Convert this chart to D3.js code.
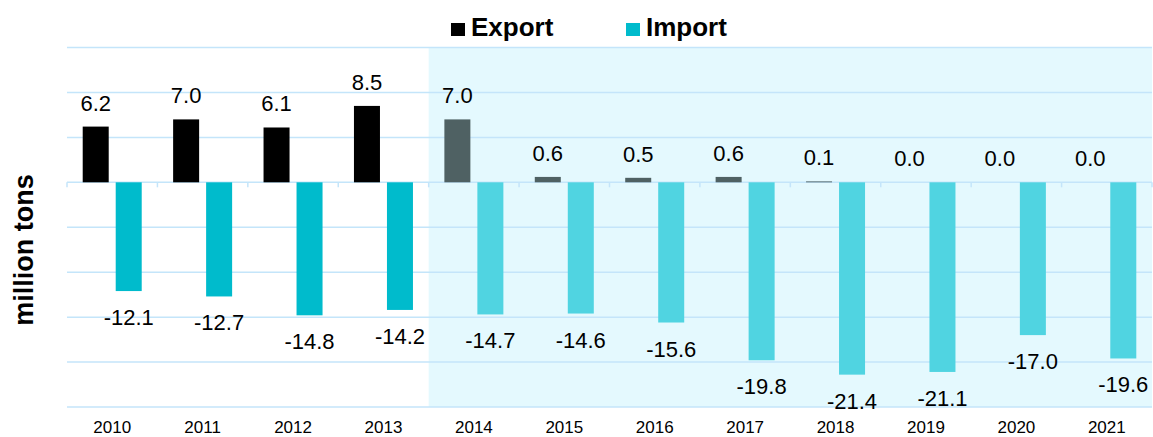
<!DOCTYPE html>
<html>
<head>
<meta charset="utf-8">
<script src="https://cdn.jsdelivr.net/npm/d3@7"></script>
<style>
  html, body { margin: 0; padding: 0; background: #ffffff; }
  svg { display: block; font-family: "Liberation Sans", Arial, sans-serif; }
</style>
</head>
<body>
<svg id="chart" width="1153" height="437"></svg>
<script>
const years = ["2010","2011","2012","2013","2014","2015","2016","2017","2018","2019","2020","2021"];
const exportVals = [6.2, 7.0, 6.1, 8.5, 7.0, 0.6, 0.5, 0.6, 0.1, 0.0, 0.0, 0.0];
const importVals = [-12.1, -12.7, -14.8, -14.2, -14.7, -14.6, -15.6, -19.8, -21.4, -21.1, -17.0, -19.6];
const yTicks = [-25, -20, -15, -10, -5, 0, 5, 10, 15];
const seriesNames = ["Export", "Import"];
const highlightFrom = "2014";

const W = 1153, H = 437;
const plot = { left: 67, right: 1152, top: 47.5, bottom: 407 };

const colors = {
  exportEarly: "#000000",
  exportLate: "#4f6163",
  importEarly: "#00bbcc",
  importLate: "#50d4e1",
  shade: "#e4f9fe",
  grid: "#c4e5fa"
};

const svg = d3.select("#chart");

const x0 = d3.scaleBand().domain(years).range([plot.left, plot.right]).paddingInner(0).paddingOuter(0);
const x1 = d3.scaleBand().domain(["export", "import"]).range([0, x0.bandwidth()])
  .paddingInner(0.212).paddingOuter(0.476);
const y = d3.scaleLinear().domain([-25, 15]).range([plot.bottom, plot.top]);

const late = d => years.indexOf(d) >= years.indexOf(highlightFrom);

// shaded region
svg.append("rect")
  .attr("x", x0(highlightFrom))
  .attr("y", y(15))
  .attr("width", plot.right - x0(highlightFrom))
  .attr("height", y(-25) - y(15))
  .attr("fill", colors.shade);

// gridlines
svg.append("g")
  .selectAll("line")
  .data(yTicks)
  .join("line")
  .attr("x1", plot.left)
  .attr("x2", plot.right)
  .attr("y1", d => y(d))
  .attr("y2", d => y(d))
  .attr("stroke", colors.grid)
  .attr("stroke-width", 1.5);

// category tick marks on zero line
const tickXs = years.map(d => x0(d)).concat([plot.right]);
svg.append("g")
  .selectAll("line")
  .data(tickXs)
  .join("line")
  .attr("x1", d => d)
  .attr("x2", d => d)
  .attr("y1", y(0))
  .attr("y2", y(0) + 5)
  .attr("stroke", colors.grid)
  .attr("stroke-width", 1.5);

const rows = years.map((yr, i) => ({ year: yr, exp: exportVals[i], imp: importVals[i] }));
const fmt = v => v.toFixed(1);

// export bars
svg.append("g")
  .selectAll("rect")
  .data(rows)
  .join("rect")
  .attr("x", d => x0(d.year) + x1("export"))
  .attr("width", x1.bandwidth())
  .attr("y", d => y(Math.max(0, d.exp)))
  .attr("height", d => Math.abs(y(d.exp) - y(0)))
  .attr("fill", d => late(d.year) ? colors.exportLate : colors.exportEarly);

// import bars
svg.append("g")
  .selectAll("rect")
  .data(rows)
  .join("rect")
  .attr("x", d => x0(d.year) + x1("import"))
  .attr("width", x1.bandwidth())
  .attr("y", d => y(Math.max(0, d.imp)))
  .attr("height", d => Math.abs(y(d.imp) - y(0)))
  .attr("fill", d => late(d.year) ? colors.importLate : colors.importEarly);

// export labels
svg.append("g")
  .selectAll("text")
  .data(rows)
  .join("text")
  .attr("x", d => x0(d.year) + x1("export") + x1.bandwidth() / 2)
  .attr("y", d => y(d.exp) - 16)
  .attr("text-anchor", "middle")
  .attr("font-size", 22)
  .attr("fill", "#000")
  .text(d => fmt(d.exp));

// import labels
svg.append("g")
  .selectAll("text")
  .data(rows)
  .join("text")
  .attr("x", d => x0(d.year) + x1("import") + x1.bandwidth() / 2)
  .attr("y", d => y(d.imp) + 34)
  .attr("text-anchor", "middle")
  .attr("font-size", 22)
  .attr("fill", "#000")
  .text(d => fmt(d.imp));

// x axis labels
const xAxis = d3.axisBottom(x0).tickSize(0).tickPadding(0);
const gx = svg.append("g")
  .attr("transform", `translate(0, ${plot.bottom})`)
  .call(xAxis);
gx.select(".domain").remove();
gx.selectAll("text")
  .attr("font-size", 17)
  .attr("font-family", "'Liberation Sans', Arial, sans-serif")
  .attr("fill", "#000")
  .attr("dy", null)
  .attr("y", 26);

// y axis title
svg.append("text")
  .attr("transform", "translate(33, 250) rotate(-90)")
  .attr("text-anchor", "middle")
  .attr("font-size", 27)
  .attr("font-weight", "bold")
  .attr("fill", "#000")
  .text("million tons");

// legend
const legendItems = [
  { name: seriesNames[0], color: colors.exportEarly, x: 451 },
  { name: seriesNames[1], color: colors.importEarly, x: 626 }
];
const lg = svg.append("g");
lg.selectAll("rect")
  .data(legendItems)
  .join("rect")
  .attr("x", d => d.x)
  .attr("y", 23)
  .attr("width", 14)
  .attr("height", 13)
  .attr("fill", d => d.color);
lg.selectAll("text")
  .data(legendItems)
  .join("text")
  .attr("x", d => d.x + 20)
  .attr("y", 36)
  .attr("font-size", 26)
  .attr("font-weight", "bold")
  .attr("fill", "#000")
  .text(d => d.name);
</script>
</body>
</html>
